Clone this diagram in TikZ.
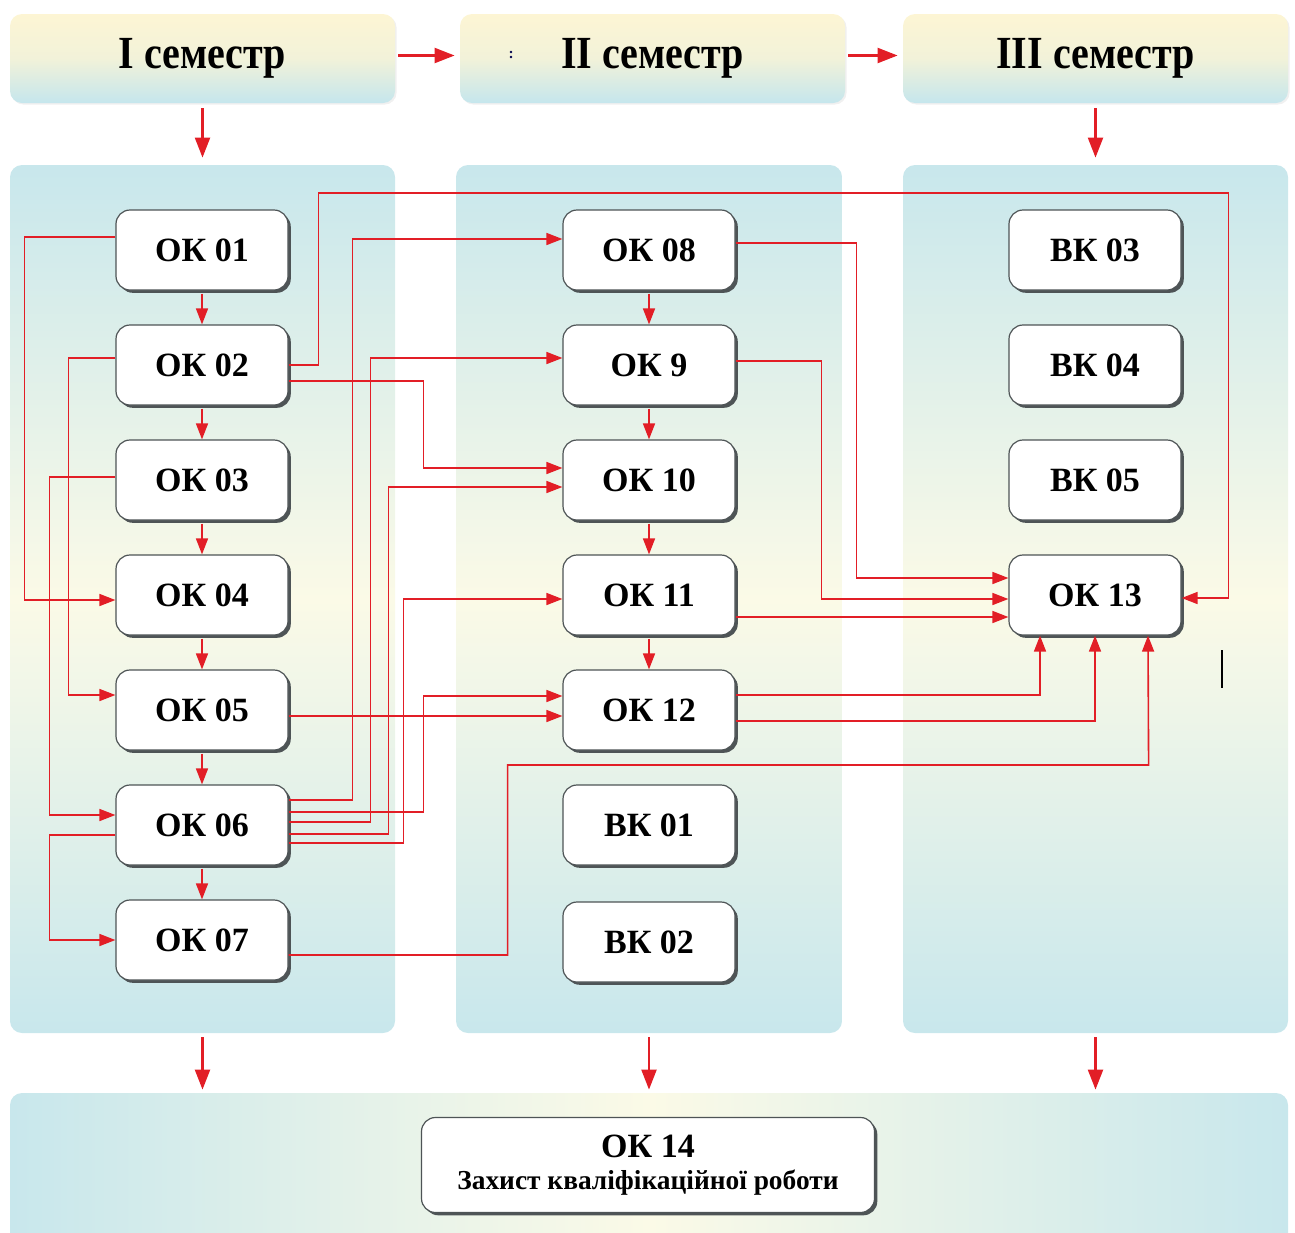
\documentclass[tikz,border=0pt]{standalone}
\usepackage{fontspec}
\setmainfont{Liberation Serif}
\newfontfamily\headfont[FakeStretch=0.87]{Liberation Serif}
\usetikzlibrary{arrows.meta,shadows}

\definecolor{linkred}{RGB}{226,30,38}
\definecolor{paneblue}{RGB}{200,231,236}
\definecolor{paneyellow}{RGB}{251,250,231}
\definecolor{headyellow}{RGB}{253,245,212}
\definecolor{headblue}{RGB}{197,230,237}
\definecolor{boxedge}{RGB}{78,84,86}

\tikzset{
  pane/.style={rounded corners=6pt, top color=paneblue, bottom color=paneblue, middle color=paneyellow},
  basepane/.style={rounded corners=6pt, left color=paneblue, right color=paneblue, middle color=paneyellow},
  semhead/.style={rounded corners=6pt, minimum width=192.5pt, minimum height=44.5pt,
    top color=headyellow, bottom color=headblue, middle color=headyellow!80!headblue,
    drop shadow={opacity=0.12, shadow xshift=0.8pt, shadow yshift=-0.8pt},
    font=\headfont\bfseries\fontsize{23}{27}\selectfont},
  okbox/.style={draw=boxedge, line width=0.6pt, fill=white, rounded corners=7pt,
    minimum width=86pt, minimum height=40pt, inner sep=0pt,
    drop shadow={shadow xshift=1.4pt, shadow yshift=-1.4pt, fill=boxedge, opacity=1},
    font=\bfseries\fontsize{17}{20}\selectfont},
  link/.style={linkred, line width=0.8pt, -{Triangle[length=8pt,width=6pt]}},
  flow/.style={linkred, line width=1.1pt, -{Triangle[length=10pt,width=7.5pt]}}
}

\begin{document}
\begin{tikzpicture}[x=0.5pt,y=-0.5pt]
\useasboundingbox (0,0) rectangle (1295,1232);

\node[semhead] (sem1) at (202.5,58.5) {I семестр};
\node[semhead] (sem2) at (652.5,58.5) {II семестр};
\node[semhead] (sem3) at (1095.5,58.5) {III семестр};

\node[pane, minimum width=192.5pt, minimum height=434pt] (col1) at (202.5,599) {};
\node[pane, minimum width=193pt, minimum height=434pt] (col2) at (649,599) {};
\node[pane, minimum width=192.5pt, minimum height=434pt] (col3) at (1095.5,599) {};
\node[basepane, minimum width=639pt, minimum height=76pt] (base) at (649,1169) {};

\node[okbox] (ok01) at (202,250) {ОК 01};
\node[okbox] (ok02) at (202,365) {ОК 02};
\node[okbox] (ok03) at (202,480) {ОК 03};
\node[okbox] (ok04) at (202,595) {ОК 04};
\node[okbox] (ok05) at (202,710) {ОК 05};
\node[okbox] (ok06) at (202,825) {ОК 06};
\node[okbox] (ok07) at (202,940) {ОК 07};

\node[okbox] (ok08) at (649,250) {ОК 08};
\node[okbox] (ok9) at (649,365) {ОК 9};
\node[okbox] (ok10) at (649,480) {ОК 10};
\node[okbox] (ok11) at (649,595) {ОК 11};
\node[okbox] (ok12) at (649,710) {ОК 12};
\node[okbox] (vk01) at (649,825) {ВК 01};
\node[okbox] (vk02) at (649,942) {ВК 02};

\node[okbox] (vk03) at (1095,250) {ВК 03};
\node[okbox] (vk04) at (1095,365) {ВК 04};
\node[okbox] (vk05) at (1095,480) {ВК 05};
\node[okbox] (ok13) at (1095,595) {ОК 13};

\node[okbox, minimum width=226.5pt, minimum height=47.5pt, align=center] (ok14) at (648,1165)
  {ОК 14\\[-4pt]{\fontsize{13.7}{15}\selectfont Захист кваліфікаційної роботи}};

\draw[flow, shorten <=1.5pt, shorten >=2.5pt] ([yshift=1.5pt]sem1.east) -- ([yshift=1.5pt]sem2.west);
\draw[flow, shorten <=1.5pt, shorten >=2.5pt] ([yshift=1.5pt]sem2.east) -- ([yshift=1.5pt]sem3.west);
\draw[flow, shorten <=2.5pt, shorten >=3.5pt] (sem1.south) -- (col1.north);
\draw[flow, shorten <=2.5pt, shorten >=3.5pt] (sem3.south) -- (col3.north);
\foreach \c in {col1,col2,col3}
  \draw[flow, shorten <=2pt, shorten >=1.5pt] (\c.south) -- (\c.south |- base.north);

\foreach \a/\b in {ok01/ok02,ok02/ok03,ok03/ok04,ok04/ok05,ok05/ok06,ok06/ok07,ok08/ok9,ok9/ok10,ok10/ok11,ok11/ok12}
  \draw[link, shorten <=1.5pt] (\a) -- (\b);

\draw[link] ([yshift=6.5pt]ok01.west) -- ++(-91,0) |- ([yshift=-2.5pt]ok04.west);
\draw[link] ([yshift=3.5pt]ok02.west) -- ++(-47,0) |- ([yshift=7.5pt]ok05.west);
\draw[link] ([yshift=1.5pt]ok03.west) -- ++(-66,0) |- ([yshift=5pt]ok06.west);
\draw[link] ([yshift=-5pt]ok06.west) -- ++(-66,0) |- (ok07.west);

\draw[link] (ok02.east) -- ++(30,0) |- ++(910,-172) |- ([yshift=-1.5pt]ok13.east);
\draw[link] ([yshift=-8pt]ok02.east) -- ++(135,0) |- ([yshift=6pt]ok10.west);
\draw[link] ([yshift=-3pt]ok05.east) -- ([yshift=-3pt]ok12.west);
\draw[link] ([yshift=12.5pt]ok06.east) -- ++(64,0) |- ([yshift=5.5pt]ok08.west);
\draw[link] ([yshift=6.5pt]ok06.east) -- ++(135,0) |- ([yshift=7pt]ok12.west);
\draw[link] ([yshift=1.5pt]ok06.east) -- ++(82,0) |- ([yshift=3.5pt]ok9.west);
\draw[link] ([yshift=-4.5pt]ok06.east) -- ++(100,0) |- ([yshift=-3.5pt]ok10.west);
\draw[link] ([yshift=-9pt]ok06.east) -- ++(115,0) |- ([yshift=-2pt]ok11.west);
\draw[link] ([yshift=-7.5pt]ok07.east) -- ++(219,0) |- ++(641,-190) -- ([xshift=26.5pt]ok13.south);

\draw[link] ([yshift=3.5pt]ok08.east) -- ++(121,0) |- ([yshift=8.5pt]ok13.west);
\draw[link] ([yshift=2pt]ok9.east) -- ++(86,0) |- ([yshift=-2pt]ok13.west);
\draw[link] ([yshift=-11pt]ok11.east) -- ([yshift=-11pt]ok13.west);
\draw[link] ([yshift=7.5pt]ok12.east) -| ([xshift=-27.5pt]ok13.south);
\draw[link] ([yshift=-5.5pt]ok12.east) -| (ok13.south);

\draw[line width=1pt] (1222,650) -- (1222,688);
\fill[black!70!blue] (511,52) circle (0.7pt) (511,57) circle (0.7pt);
\end{tikzpicture}
\end{document}
